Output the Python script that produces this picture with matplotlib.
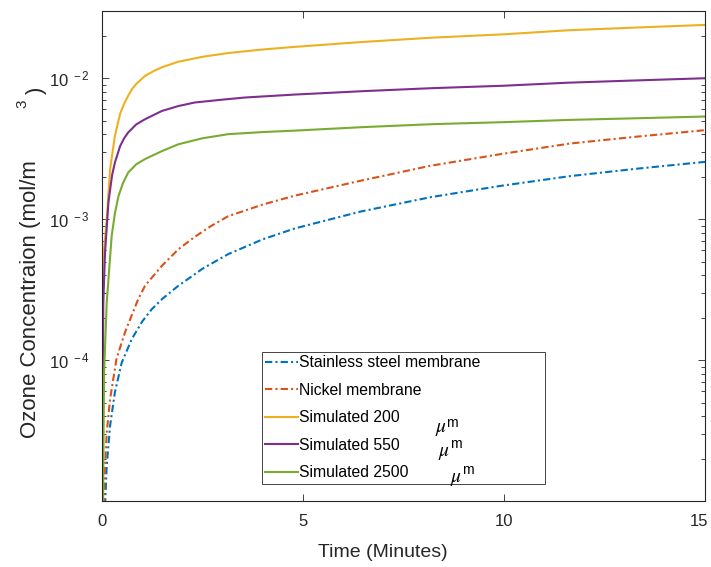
import numpy as np
import matplotlib
matplotlib.use('Agg')
import matplotlib.pyplot as plt
import matplotlib.transforms as mtransforms

plt.rcParams['font.family'] = ['Liberation Sans', 'DejaVu Sans']
plt.rcParams['mathtext.fontset'] = 'stix'

# measured ozone concentration (mol/m^3) against time (min)
t_ss = [0, 0.08, 0.117, 0.2, 0.32, 0.49, 0.74, 1.0, 1.24, 1.5, 1.9, 2.5, 3.14, 4.0, 4.8, 6.42, 8.16, 9.9, 11.64, 13.3, 15]
c_ss = [1e-6, 1.0e-5, 1.78e-5, 3.42e-5, 5.9e-5, 9.6e-5, 1.41e-4, 1.88e-4, 2.3e-4, 2.72e-4, 3.37e-4,
        4.45e-4, 5.65e-4, 7.2e-4, 8.6e-4, 1.13e-3, 1.43e-3, 1.72e-3, 2.02e-3, 2.28e-3, 2.55e-3]

t_ni = [0, 0.058, 0.117, 0.2, 0.36, 0.57, 0.9, 1.07, 1.49, 1.9, 2.31, 2.7, 3.14, 4.0, 4.8, 6.42, 8.16, 9.9, 11.64, 13.3, 15]
c_ni = [1e-6, 1.36e-5, 3.07e-5, 5.28e-5, 1.02e-4, 1.57e-4, 2.71e-4, 3.37e-4, 4.67e-4, 6.12e-4,
        7.5e-4, 8.9e-4, 1.05e-3, 1.27e-3, 1.47e-3, 1.87e-3, 2.39e-3, 2.89e-3, 3.44e-3, 3.85e-3, 4.28e-3]

# simulated curves for three membrane thicknesses
t_200 = [0, 0.03, 0.117, 0.2, 0.32, 0.45, 0.55, 0.65, 0.75, 0.85, 1.07, 1.3, 1.5, 1.9, 2.5, 3.14, 4.0, 4.8, 6.5, 8.2, 10, 11.6, 13.3, 15]
c_200 = [1e-6, 5.2e-4, 1.0e-3, 2.26e-3, 3.9e-3, 5.6e-3, 6.6e-3, 7.5e-3, 8.4e-3, 9.1e-3, 1.04e-2,
         1.13e-2, 1.2e-2, 1.31e-2, 1.42e-2, 1.51e-2, 1.6e-2, 1.67e-2, 1.81e-2, 1.94e-2, 2.05e-2,
         2.19e-2, 2.29e-2, 2.39e-2]

t_550 = [0, 0.03, 0.075, 0.16, 0.25, 0.32, 0.45, 0.55, 0.65, 0.85, 1.07, 1.49, 1.9, 2.31, 3.0, 3.56, 4.8, 6.5, 8.2, 10, 11.6, 13.3, 15]
c_550 = [1e-6, 2.5e-4, 5.8e-4, 1.32e-3, 2.05e-3, 2.52e-3, 3.3e-3, 3.75e-3, 4.12e-3, 4.7e-3, 5.12e-3,
         5.86e-3, 6.35e-3, 6.73e-3, 7.05e-3, 7.3e-3, 7.66e-3, 8.1e-3, 8.5e-3, 8.85e-3, 9.3e-3,
         9.65e-3, 1.0e-2]

t_2500 = [0, 0.05, 0.117, 0.24, 0.32, 0.41, 0.52, 0.65, 0.85, 1.07, 1.5, 1.9, 2.5, 3.14, 4.0, 4.8, 6.5, 8.2, 10, 11.6, 13.3, 15]
c_2500 = [1e-6, 8e-5, 2.57e-4, 7.6e-4, 1.1e-3, 1.46e-3, 1.8e-3, 2.14e-3, 2.45e-3, 2.67e-3, 3.05e-3,
          3.4e-3, 3.75e-3, 4.01e-3, 4.15e-3, 4.25e-3, 4.5e-3, 4.72e-3, 4.88e-3, 5.06e-3, 5.2e-3, 5.35e-3]

labels = ['Stainless steel membrane', 'Nickel membrane',
          'Simulated 200', 'Simulated 550', 'Simulated 2500']

fig = plt.figure(figsize=(7.11, 5.67), dpi=100)
ax = fig.add_axes([0.1435, 0.1164, 0.8481, 0.8642])

dd = (3.5, 1.5, 1, 1.5)
ax.plot(t_ss, c_ss, color='#0072BD', lw=1.5, dashes=dd, label=labels[0])
ax.plot(t_ni, c_ni, color='#D95319', lw=1.5, dashes=dd, label=labels[1])
ax.plot(t_200, c_200, color='#EDB120', lw=1.5, label=labels[2])
ax.plot(t_550, c_550, color='#7E2F8E', lw=1.5, label=labels[3])
ax.plot(t_2500, c_2500, color='#77AC30', lw=1.5, label=labels[4])

ax.set_yscale('log')
ax.set_xlim(0, 15)
ax.set_ylim(1e-5, 3e-2)
ax.set_xticks([0, 5, 10, 15])
ax.set_yticks([1e-4, 1e-3, 1e-2])
ax.set_yticklabels([r'$\mathregular{10^{\;\,-4}}$', r'$\mathregular{10^{\;\,-3}}$',
                    r'$\mathregular{10^{\;\,-2}}$'])

ink = '#262626'
for s in ax.spines.values():
    s.set_color(ink)
    s.set_linewidth(0.8)
ax.tick_params(which='both', direction='in', top=True, right=True, colors=ink,
               labelsize=12, width=0.6)
ax.tick_params(axis='x', pad=9)
ax.tick_params(axis='y', pad=9)
ax.tick_params(which='major', length=5)
ax.tick_params(which='minor', length=3)

# nudge the last x label so it stays inside the figure
last = ax.get_xticklabels()[-1]
last.set_transform(last.get_transform() +
                   mtransforms.ScaledTranslation(-4 / 72, 0, fig.dpi_scale_trans))

ax.set_xlabel('Time (Minutes)', fontsize=14, color=ink, va='center')
ax.xaxis.set_label_coords(0.466, -0.106)
ax.set_ylabel('Ozone Concentraion (mol/m', fontsize=16, color=ink, va='center')
ax.yaxis.set_label_coords(-0.119, 0.412)
fig.text(0.031, 0.817, '3', rotation=90, fontsize=11, color=ink, ha='center', va='center')
fig.text(0.051, 0.840, ')', rotation=90, fontsize=16, color=ink, ha='center', va='center')

leg = ax.legend(loc='upper left', bbox_to_anchor=(0.265, 0.043, 0.47, 0.261),
                mode='expand', borderaxespad=0, fontsize=11.3, handlelength=2.1,
                handletextpad=0.05, labelspacing=0.8, borderpad=0.2,
                fancybox=False, framealpha=1)
leg.get_frame().set_edgecolor(ink)
leg.get_frame().set_linewidth(0.6)

# stray micrometre units next to the simulated entries
for (xm, ym), (xu, yu) in [((0.562, 0.145), (0.580, 0.159)),
                           ((0.567, 0.096), (0.587, 0.117)),
                           ((0.587, 0.043), (0.607, 0.063))]:
    ax.text(xm, ym, r'$\mu$', transform=ax.transAxes, fontsize=14, ha='center',
            va='center', color='k', zorder=10)
    ax.text(xu, yu, 'm', transform=ax.transAxes, fontsize=10, ha='center',
            va='center', color='k', zorder=10)

plt.savefig('out.png', dpi=100)
